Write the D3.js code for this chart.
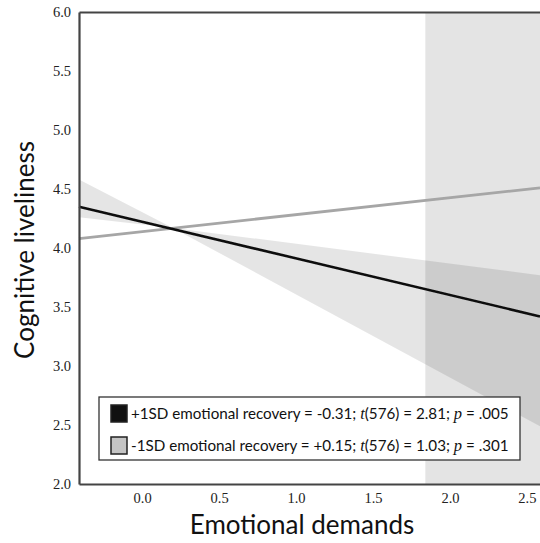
<!DOCTYPE html>
<html>
<head>
<meta charset="utf-8">
<script src="https://cdn.jsdelivr.net/npm/d3@7"></script>
<style>
  body { margin: 0; background: #fff; }
  .tick text { font-family: "Liberation Serif", serif; font-size: 14.5px; fill: #222; }
  .axisTitle { font-family: "Lato", sans-serif; font-size: 26px; fill: #111; }
  .legendText { font-family: "Lato", sans-serif; font-size: 15.2px; fill: #111; }
</style>
</head>
<body>
<div id="chart"></div>
<script>
// values
var xTicks = [0, 0.5, 1, 1.5, 2, 2.5];
var yTicks = [2, 2.5, 3, 3.5, 4, 4.5, 5, 5.5, 6];
var lineX = [-0.41, 2.585];
var highRecovery = [4.35, 3.42];   // +1SD
var lowRecovery = [4.08, 4.51];    // -1SD
var bandX = [-0.41, 0.2, 2.585];
var bandUpper = [4.58, 4.17, 3.77];
var bandLower = [4.26, 4.17, 2.49];
var regionStart = 1.84;
var regionEnd = 2.585;
var legendLabels = [
  ["+1SD emotional recovery = -0.31; ", "t", "(576) = 2.81; ", "p", " = .005"],
  ["-1SD emotional recovery = +0.15; ", "t", "(576) = 1.03; ", "p", " = .301"]
];
var legendFills = ["#111", "#c4c4c4"];

var svgWidth = 540;
var svgHeight = 543;
var margin = { top: 12, right: 0, bottom: 59, left: 79 };
var width = svgWidth - margin.left - margin.right;
var height = svgHeight - margin.top - margin.bottom;

var svg = d3.select("#chart")
    .append("svg")
    .attr("width", svgWidth)
    .attr("height", svgHeight);

var defs = svg.append("defs");
defs.append("filter").attr("id", "soft")
    .append("feGaussianBlur").attr("stdDeviation", 0.45);

var chartGroup = svg.append("g")
    .attr("transform", `translate(${margin.left},${margin.top})`);

var xScale = d3.scaleLinear().domain([-0.41, 2.585]).range([0, width]);
var yScale = d3.scaleLinear().domain([2, 6]).range([height, 0]);

// shaded region
chartGroup.append("rect")
    .attr("x", xScale(regionStart))
    .attr("y", 0)
    .attr("width", xScale(regionEnd) - xScale(regionStart))
    .attr("height", height)
    .attr("fill", "#000")
    .attr("opacity", 0.105);

// confidence band
var bandData = bandX.map((x, i) => ({ x: x, lo: bandLower[i], hi: bandUpper[i] }));
chartGroup.append("path")
    .datum(bandData)
    .attr("fill", "#000")
    .attr("opacity", 0.1)
    .attr("d", d3.area()
        .x(d => xScale(d.x))
        .y0(d => yScale(d.lo))
        .y1(d => yScale(d.hi)));

var line = d3.line().x(d => xScale(d[0])).y(d => yScale(d[1]));

chartGroup.append("path")
    .datum(lineX.map((x, i) => [x, lowRecovery[i]]))
    .attr("fill", "none")
    .attr("stroke", "#a6a6a6")
    .attr("stroke-width", 2.8)
    .attr("filter", "url(#soft)")
    .attr("d", line);

chartGroup.append("path")
    .datum(lineX.map((x, i) => [x, highRecovery[i]]))
    .attr("fill", "none")
    .attr("stroke", "#111")
    .attr("stroke-width", 2.6)
    .attr("filter", "url(#soft)")
    .attr("d", line);

// axes
var xAxis = d3.axisBottom(xScale).tickValues(xTicks).tickFormat(d3.format(".1f")).tickSize(0).tickPadding(9);
var yAxis = d3.axisLeft(yScale).tickValues(yTicks).tickFormat(d3.format(".1f")).tickSize(0).tickPadding(8);

var gx = chartGroup.append("g")
    .attr("transform", `translate(0,${height})`)
    .call(xAxis);
var gy = chartGroup.append("g").call(yAxis);
var gt = chartGroup.append("g").call(d3.axisTop(xScale).tickValues([]).tickSizeOuter(0));

[gx, gy, gt].forEach(g => g.select(".domain")
    .attr("stroke", "#444")
    .attr("stroke-width", 2.2));

chartGroup.append("text")
    .attr("class", "axisTitle")
    .attr("transform", "rotate(-90)")
    .attr("x", -height / 2 - 2)
    .attr("y", -margin.left + 34)
    .attr("text-anchor", "middle")
    .text("Cognitive liveliness");

chartGroup.append("text")
    .attr("class", "axisTitle")
    .attr("x", 302 - margin.left)
    .attr("y", height + 50)
    .attr("text-anchor", "middle")
    .text("Emotional demands");

// legend
var legend = chartGroup.append("g")
    .attr("transform", `translate(${99 - margin.left},${397 - margin.top})`);
legend.append("rect")
    .attr("width", 421)
    .attr("height", 63)
    .attr("fill", "#fff")
    .attr("stroke", "#333")
    .attr("stroke-width", 1.3);

legendLabels.forEach(function(parts, i) {
    var row = legend.append("g").attr("transform", `translate(0,${8 + i * 32})`);
    row.append("rect")
        .attr("x", 12)
        .attr("y", 0)
        .attr("width", 16)
        .attr("height", 17)
        .attr("fill", legendFills[i])
        .attr("stroke", "#222")
        .attr("stroke-width", 1.5);
    var t = row.append("text")
        .attr("class", "legendText")
        .attr("x", 32)
        .attr("y", 14);
    parts.forEach(function(p, j) {
        t.append("tspan")
            .style("font-style", j % 2 === 1 ? "italic" : "normal")
            .style("font-family", j % 2 === 1 ? "'Liberation Serif', serif" : null)
            .style("font-size", j % 2 === 1 ? "16.5px" : null)
            .text(p);
    });
});
</script>
</body>
</html>
